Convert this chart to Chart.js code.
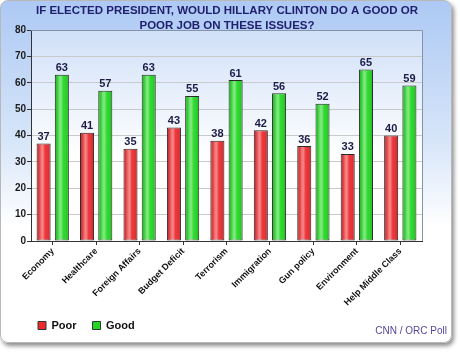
<!DOCTYPE html>
<html>
<head>
<meta charset="utf-8">
<script src="https://cdn.jsdelivr.net/npm/chart.js@4.4.1/dist/chart.umd.min.js"></script>
<style>
  html, body { margin: 0; padding: 0; background: #ffffff; }
  #wrap { position: relative; width: 460px; height: 353px; }
  #panel {
    position: absolute; left: 0; top: 0; width: 450px; height: 341px;
    border: 1px solid #b8b8b8; border-radius: 8px;
    background: linear-gradient(#adc9f4 0%, #d8e6f9 42%, #ffffff 66%);
    box-shadow: 2px 3px 4px rgba(0, 0, 0, 0.45);
  }
  #chart { position: absolute; left: 0; top: 0; }
</style>
</head>
<body>
<div id="wrap">
  <div id="panel"></div>
  <canvas id="chart" width="460" height="353"></canvas>
</div>
<script>
// ===================== Data =====================
const categories = ['Economy', 'Healthcare', 'Foreign Affairs', 'Budget Deficit', 'Terrorism',
  'Immigration', 'Gun policy', 'Environment', 'Help Middle Class'];
const poorValues = [37, 41, 35, 43, 38, 42, 36, 33, 40];
const goodValues = [63, 57, 63, 55, 61, 56, 52, 65, 59];
const yTicks = [0, 10, 20, 30, 40, 50, 60, 70, 80];
const titleLines = ['IF ELECTED PRESIDENT, WOULD HILLARY CLINTON DO A GOOD OR', 'POOR JOB ON THESE ISSUES?'];
const creditText = 'CNN / ORC Poll';

const FONT = '"Liberation Sans", Arial, sans-serif';

// ===================== Plugins =====================
// plot background + top/right frame
const plotFrame = {
  id: 'plotFrame',
  afterLayout: function (chart) {
    // legend sits a bit right of the canvas edge and slightly higher, like the original
    const lg = chart.legend;
    const dx = 22 - lg.left;
    lg.left += dx;
    lg.right += dx;
    lg.top -= 2;
    lg.bottom -= 2;
  },
  beforeDraw: function (chart) {
    const a = chart.chartArea;
    const ctx = chart.ctx;
    const g = ctx.createLinearGradient(0, a.top, 0, a.bottom);
    g.addColorStop(0, '#d0e0f8');
    g.addColorStop(0.6, '#ffffff');
    g.addColorStop(1, '#ffffff');
    ctx.save();
    ctx.fillStyle = g;
    ctx.fillRect(a.left, a.top, a.right - a.left, a.bottom - a.top);
    ctx.restore();
  },
  beforeDatasetsDraw: function (chart) {
    const a = chart.chartArea;
    const ctx = chart.ctx;
    ctx.save();
    ctx.strokeStyle = '#8593a8';
    ctx.lineWidth = 1;
    ctx.beginPath();
    ctx.moveTo(a.left, a.top + 0.5);
    ctx.lineTo(a.right + 0.5, a.top + 0.5);
    ctx.lineTo(a.right + 0.5, a.bottom);
    ctx.stroke();
    ctx.restore();
  }
};

// shine on bars + value labels
const barDecor = {
  id: 'barDecor',
  afterDatasetsDraw: function (chart) {
    const ctx = chart.ctx;
    ctx.save();
    chart.data.datasets.forEach(function (ds, i) {
      const meta = chart.getDatasetMeta(i);
      meta.data.forEach(function (bar, j) {
        const w = bar.width;
        const x0 = bar.x - w / 2;
        const g = ctx.createLinearGradient(x0, 0, x0 + w, 0);
        g.addColorStop(0, 'rgba(0,0,0,0.12)');
        g.addColorStop(0.3, 'rgba(255,255,255,0.30)');
        g.addColorStop(0.42, 'rgba(255,255,255,0.45)');
        g.addColorStop(0.62, 'rgba(255,255,255,0.05)');
        g.addColorStop(1, 'rgba(0,0,0,0.18)');
        ctx.fillStyle = g;
        ctx.fillRect(x0 + 1, bar.y + 1, w - 2, bar.base - bar.y - 1);

        ctx.fillStyle = '#1c1c48';
        ctx.font = 'bold 11px ' + FONT;
        ctx.textAlign = 'center';
        ctx.textBaseline = 'bottom';
        ctx.fillText(ds.data[j], bar.x, bar.y - 1);
      });
    });
    ctx.restore();
  }
};

// title and source note
const texts = {
  id: 'texts',
  afterDraw: function (chart) {
    const ctx = chart.ctx;
    ctx.save();
    ctx.fillStyle = '#20206e';
    ctx.font = 'bold 11.5px ' + FONT;
    ctx.textAlign = 'center';
    ctx.textBaseline = 'middle';
    ctx.fillText(titleLines[0], 227, 11);
    ctx.fillText(titleLines[1], 227, 26);

    ctx.fillStyle = '#5546a0';
    ctx.font = '10px ' + FONT;
    ctx.textAlign = 'right';
    ctx.fillText(creditText, 447, 331);
    ctx.restore();
  }
};

// ===================== Chart =====================
new Chart(document.getElementById('chart'), {
  type: 'bar',
  data: {
    labels: categories,
    datasets: [{
      label: 'Poor',
      data: poorValues,
      backgroundColor: '#ec2a2e',
      borderColor: '#2a2a2a',
      borderWidth: 1,
      borderSkipped: false,
      categoryPercentage: 0.84,
      barPercentage: 0.77
    }, {
      label: 'Good',
      data: goodValues,
      backgroundColor: '#22d822',
      borderColor: '#2a2a2a',
      borderWidth: 1,
      borderSkipped: false,
      categoryPercentage: 0.84,
      barPercentage: 0.77
    }]
  },
  options: {
    responsive: false,
    animation: false,
    devicePixelRatio: 1,
    layout: { padding: { top: 30, right: 38, bottom: 10, left: 0 } },
    scales: {
      x: {
        afterFit: function (scale) { scale.height = 65; },
        grid: { offset: false, drawOnChartArea: false, tickLength: 4, color: '#333333' },
        border: { color: '#333333' },
        ticks: {
          autoSkip: false, maxRotation: 45, minRotation: 45, padding: 1,
          color: '#111111', font: { family: FONT, size: 9, weight: 'bold' }
        }
      },
      y: {
        min: 0, max: 80,
        afterFit: function (scale) { scale.width = 31; },
        afterBuildTicks: function (scale) {
          scale.ticks = yTicks.map(function (v) { return { value: v }; });
        },
        grid: {
          tickLength: 4,
          tickColor: '#333333',
          color: function (c) {
            return c.tick && c.tick.value === 80 ? 'rgba(0,0,0,0)' : '#c9c9c9';
          }
        },
        border: { color: '#333333' },
        ticks: { padding: 1, color: '#1a1a1a', font: { family: FONT, size: 10, weight: 'bold' } }
      }
    },
    plugins: {
      legend: {
        position: 'bottom',
        align: 'start',
        labels: {
          boxWidth: 8, boxHeight: 8, padding: 16,
          color: '#111111',
          font: { family: FONT, size: 11, weight: 'bold' },
          generateLabels: function (chart) {
            return chart.data.datasets.map(function (ds, i) {
              return {
                text: ds.label, fillStyle: ds.backgroundColor, strokeStyle: '#333333',
                lineWidth: 1, datasetIndex: i, fontColor: '#111111'
              };
            });
          }
        }
      },
      tooltip: { enabled: false }
    }
  },
  plugins: [plotFrame, barDecor, texts]
});
</script>
</body>
</html>
